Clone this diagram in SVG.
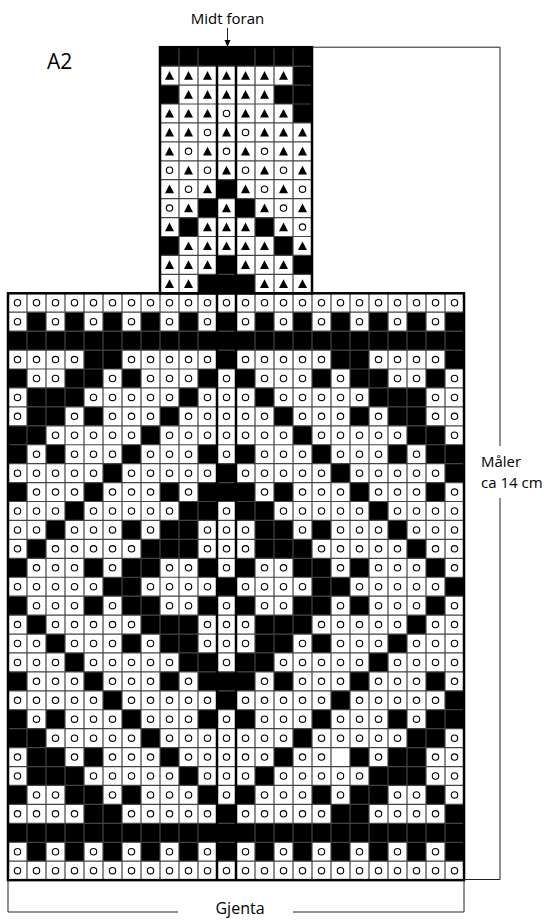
<svg xmlns="http://www.w3.org/2000/svg" xmlns:xlink="http://www.w3.org/1999/xlink" width="550" height="921" viewBox="0 0 550 921">
<style>
.l{font-family:"Open Sans","Liberation Sans",sans-serif;font-size:15px;fill:#000}
.a{font-family:"Open Sans","Liberation Sans",sans-serif;font-size:21px;fill:#000}
.g{fill:none;stroke:#444;stroke-width:1.2}
.thick{fill:none;stroke:#000;stroke-width:2.5}
.br{fill:none;stroke:#222;stroke-width:1}
</style>
<defs>
<rect id="b" width="19" height="18.93" fill="#000"/>
<circle id="o" cx="9.5" cy="9.47" r="3.2" fill="none" stroke="#000" stroke-width="1.1"/>
<path id="t" d="M9.5 4.9L14 13.6H5Z" fill="#000"/>
<g id="R1"><use href="#o" x="8"/><use href="#o" x="27"/><use href="#o" x="46"/><use href="#o" x="65"/><use href="#o" x="84"/><use href="#o" x="103"/><use href="#o" x="122"/><use href="#o" x="141"/><use href="#o" x="160"/><use href="#o" x="179"/><use href="#o" x="198"/><use href="#o" x="217"/><use href="#o" x="236"/><use href="#o" x="255"/><use href="#o" x="274"/><use href="#o" x="293"/><use href="#o" x="312"/><use href="#o" x="331"/><use href="#o" x="350"/><use href="#o" x="369"/><use href="#o" x="388"/><use href="#o" x="407"/><use href="#o" x="426"/><use href="#o" x="445"/></g>
<g id="R2"><use href="#o" x="8"/><use href="#b" x="27"/><use href="#o" x="46"/><use href="#b" x="65"/><use href="#o" x="84"/><use href="#b" x="103"/><use href="#o" x="122"/><use href="#b" x="141"/><use href="#o" x="160"/><use href="#b" x="179"/><use href="#o" x="198"/><use href="#b" x="217"/><use href="#o" x="236"/><use href="#b" x="255"/><use href="#o" x="274"/><use href="#b" x="293"/><use href="#o" x="312"/><use href="#b" x="331"/><use href="#o" x="350"/><use href="#b" x="369"/><use href="#o" x="388"/><use href="#b" x="407"/><use href="#o" x="426"/><use href="#b" x="445"/></g>
<g id="R3"><rect x="8" width="456" height="18.93" fill="#000"/></g>
<g id="R4"><use href="#b" x="84"/><use href="#b" x="103"/><use href="#b" x="217"/><use href="#b" x="331"/><use href="#b" x="350"/><use href="#b" x="445"/><use href="#o" x="8"/><use href="#o" x="27"/><use href="#o" x="46"/><use href="#o" x="65"/><use href="#o" x="122"/><use href="#o" x="141"/><use href="#o" x="160"/><use href="#o" x="179"/><use href="#o" x="198"/><use href="#o" x="236"/><use href="#o" x="255"/><use href="#o" x="274"/><use href="#o" x="293"/><use href="#o" x="312"/><use href="#o" x="369"/><use href="#o" x="388"/><use href="#o" x="407"/><use href="#o" x="426"/></g>
<g id="R5"><use href="#b" x="8"/><use href="#b" x="65"/><use href="#b" x="84"/><use href="#b" x="122"/><use href="#b" x="198"/><use href="#b" x="236"/><use href="#b" x="312"/><use href="#b" x="350"/><use href="#b" x="369"/><use href="#b" x="426"/><use href="#o" x="27"/><use href="#o" x="46"/><use href="#o" x="103"/><use href="#o" x="141"/><use href="#o" x="160"/><use href="#o" x="179"/><use href="#o" x="217"/><use href="#o" x="255"/><use href="#o" x="274"/><use href="#o" x="293"/><use href="#o" x="331"/><use href="#o" x="388"/><use href="#o" x="407"/><use href="#o" x="445"/></g>
<g id="R6"><use href="#b" x="27"/><use href="#b" x="46"/><use href="#b" x="65"/><use href="#b" x="179"/><use href="#b" x="255"/><use href="#b" x="369"/><use href="#b" x="388"/><use href="#b" x="407"/><use href="#o" x="8"/><use href="#o" x="84"/><use href="#o" x="103"/><use href="#o" x="122"/><use href="#o" x="141"/><use href="#o" x="160"/><use href="#o" x="198"/><use href="#o" x="217"/><use href="#o" x="236"/><use href="#o" x="274"/><use href="#o" x="293"/><use href="#o" x="312"/><use href="#o" x="331"/><use href="#o" x="350"/><use href="#o" x="426"/><use href="#o" x="445"/></g>
<g id="R7b"><use href="#b" x="27"/><use href="#b" x="46"/><use href="#b" x="84"/><use href="#b" x="160"/><use href="#b" x="274"/><use href="#b" x="350"/><use href="#b" x="388"/><use href="#b" x="407"/><use href="#o" x="8"/><use href="#o" x="65"/><use href="#o" x="103"/><use href="#o" x="122"/><use href="#o" x="141"/><use href="#o" x="179"/><use href="#o" x="198"/><use href="#o" x="217"/><use href="#o" x="236"/><use href="#o" x="255"/><use href="#o" x="293"/><use href="#o" x="312"/><use href="#o" x="369"/><use href="#o" x="426"/><use href="#o" x="445"/></g>
<g id="R7"><use href="#R7b"/><use href="#o" x="331"/></g>
<g id="R8"><use href="#b" x="8"/><use href="#b" x="27"/><use href="#b" x="141"/><use href="#b" x="293"/><use href="#b" x="407"/><use href="#b" x="426"/><use href="#o" x="46"/><use href="#o" x="65"/><use href="#o" x="84"/><use href="#o" x="103"/><use href="#o" x="122"/><use href="#o" x="160"/><use href="#o" x="179"/><use href="#o" x="198"/><use href="#o" x="217"/><use href="#o" x="236"/><use href="#o" x="255"/><use href="#o" x="274"/><use href="#o" x="312"/><use href="#o" x="331"/><use href="#o" x="350"/><use href="#o" x="369"/><use href="#o" x="388"/><use href="#o" x="445"/></g>
<g id="R9"><use href="#b" x="8"/><use href="#b" x="46"/><use href="#b" x="122"/><use href="#b" x="198"/><use href="#b" x="236"/><use href="#b" x="312"/><use href="#b" x="388"/><use href="#b" x="426"/><use href="#b" x="445"/><use href="#o" x="27"/><use href="#o" x="65"/><use href="#o" x="84"/><use href="#o" x="103"/><use href="#o" x="141"/><use href="#o" x="160"/><use href="#o" x="179"/><use href="#o" x="217"/><use href="#o" x="255"/><use href="#o" x="274"/><use href="#o" x="293"/><use href="#o" x="331"/><use href="#o" x="350"/><use href="#o" x="369"/><use href="#o" x="407"/></g>
<g id="R10"><use href="#b" x="103"/><use href="#b" x="217"/><use href="#b" x="331"/><use href="#b" x="445"/><use href="#o" x="8"/><use href="#o" x="27"/><use href="#o" x="46"/><use href="#o" x="65"/><use href="#o" x="84"/><use href="#o" x="122"/><use href="#o" x="141"/><use href="#o" x="160"/><use href="#o" x="179"/><use href="#o" x="198"/><use href="#o" x="236"/><use href="#o" x="255"/><use href="#o" x="274"/><use href="#o" x="293"/><use href="#o" x="312"/><use href="#o" x="350"/><use href="#o" x="369"/><use href="#o" x="388"/><use href="#o" x="407"/><use href="#o" x="426"/></g>
<g id="R11"><use href="#b" x="8"/><use href="#b" x="84"/><use href="#b" x="160"/><use href="#b" x="198"/><use href="#b" x="217"/><use href="#b" x="236"/><use href="#b" x="274"/><use href="#b" x="350"/><use href="#b" x="426"/><use href="#o" x="27"/><use href="#o" x="46"/><use href="#o" x="65"/><use href="#o" x="103"/><use href="#o" x="122"/><use href="#o" x="141"/><use href="#o" x="179"/><use href="#o" x="255"/><use href="#o" x="293"/><use href="#o" x="312"/><use href="#o" x="331"/><use href="#o" x="369"/><use href="#o" x="388"/><use href="#o" x="407"/><use href="#o" x="445"/></g>
<g id="R12"><use href="#b" x="65"/><use href="#b" x="179"/><use href="#b" x="198"/><use href="#b" x="236"/><use href="#b" x="255"/><use href="#b" x="369"/><use href="#o" x="8"/><use href="#o" x="27"/><use href="#o" x="46"/><use href="#o" x="84"/><use href="#o" x="103"/><use href="#o" x="122"/><use href="#o" x="141"/><use href="#o" x="160"/><use href="#o" x="217"/><use href="#o" x="274"/><use href="#o" x="293"/><use href="#o" x="312"/><use href="#o" x="331"/><use href="#o" x="350"/><use href="#o" x="388"/><use href="#o" x="407"/><use href="#o" x="426"/><use href="#o" x="445"/></g>
<g id="R13"><use href="#b" x="46"/><use href="#b" x="122"/><use href="#b" x="160"/><use href="#b" x="179"/><use href="#b" x="255"/><use href="#b" x="274"/><use href="#b" x="312"/><use href="#b" x="388"/><use href="#o" x="8"/><use href="#o" x="27"/><use href="#o" x="65"/><use href="#o" x="84"/><use href="#o" x="103"/><use href="#o" x="141"/><use href="#o" x="198"/><use href="#o" x="217"/><use href="#o" x="236"/><use href="#o" x="293"/><use href="#o" x="331"/><use href="#o" x="350"/><use href="#o" x="369"/><use href="#o" x="407"/><use href="#o" x="426"/><use href="#o" x="445"/></g>
<g id="R14"><use href="#b" x="27"/><use href="#b" x="141"/><use href="#b" x="160"/><use href="#b" x="179"/><use href="#b" x="255"/><use href="#b" x="274"/><use href="#b" x="293"/><use href="#b" x="407"/><use href="#o" x="8"/><use href="#o" x="46"/><use href="#o" x="65"/><use href="#o" x="84"/><use href="#o" x="103"/><use href="#o" x="122"/><use href="#o" x="198"/><use href="#o" x="217"/><use href="#o" x="236"/><use href="#o" x="312"/><use href="#o" x="331"/><use href="#o" x="350"/><use href="#o" x="369"/><use href="#o" x="388"/><use href="#o" x="426"/><use href="#o" x="445"/></g>
<g id="R15"><use href="#b" x="8"/><use href="#b" x="84"/><use href="#b" x="122"/><use href="#b" x="141"/><use href="#b" x="198"/><use href="#b" x="236"/><use href="#b" x="293"/><use href="#b" x="312"/><use href="#b" x="350"/><use href="#b" x="426"/><use href="#o" x="27"/><use href="#o" x="46"/><use href="#o" x="65"/><use href="#o" x="103"/><use href="#o" x="160"/><use href="#o" x="179"/><use href="#o" x="217"/><use href="#o" x="255"/><use href="#o" x="274"/><use href="#o" x="331"/><use href="#o" x="369"/><use href="#o" x="388"/><use href="#o" x="407"/><use href="#o" x="445"/></g>
<g id="R16"><use href="#b" x="103"/><use href="#b" x="122"/><use href="#b" x="217"/><use href="#b" x="312"/><use href="#b" x="331"/><use href="#b" x="445"/><use href="#o" x="8"/><use href="#o" x="27"/><use href="#o" x="46"/><use href="#o" x="65"/><use href="#o" x="84"/><use href="#o" x="141"/><use href="#o" x="160"/><use href="#o" x="179"/><use href="#o" x="198"/><use href="#o" x="236"/><use href="#o" x="255"/><use href="#o" x="274"/><use href="#o" x="293"/><use href="#o" x="350"/><use href="#o" x="369"/><use href="#o" x="388"/><use href="#o" x="407"/><use href="#o" x="426"/></g>
</defs>
<rect width="550" height="921" fill="#fff"/>
<g id="top-chart">
<g transform="translate(0,47.2)"><rect x="160" width="152" height="18.93" fill="#000"/></g>
<g transform="translate(0,66.13)"><use href="#t" x="160"/><use href="#t" x="179"/><use href="#t" x="198"/><use href="#t" x="217"/><use href="#t" x="236"/><use href="#t" x="255"/><use href="#t" x="274"/><use href="#b" x="293"/></g>
<g transform="translate(0,85.06)"><use href="#b" x="160"/><use href="#t" x="179"/><use href="#t" x="198"/><use href="#t" x="217"/><use href="#t" x="236"/><use href="#t" x="255"/><use href="#b" x="274"/><use href="#b" x="293"/></g>
<g transform="translate(0,103.99)"><use href="#t" x="160"/><use href="#t" x="179"/><use href="#t" x="198"/><use href="#o" x="217"/><use href="#t" x="236"/><use href="#t" x="255"/><use href="#t" x="274"/><use href="#b" x="293"/></g>
<g transform="translate(0,122.92)"><use href="#t" x="160"/><use href="#t" x="179"/><use href="#o" x="198"/><use href="#t" x="217"/><use href="#o" x="236"/><use href="#t" x="255"/><use href="#t" x="274"/><use href="#t" x="293"/></g>
<g transform="translate(0,141.85)"><use href="#t" x="160"/><use href="#o" x="179"/><use href="#t" x="198"/><use href="#o" x="217"/><use href="#t" x="236"/><use href="#o" x="255"/><use href="#t" x="274"/><use href="#t" x="293"/></g>
<g transform="translate(0,160.78)"><use href="#o" x="160"/><use href="#t" x="179"/><use href="#o" x="198"/><use href="#t" x="217"/><use href="#o" x="236"/><use href="#t" x="255"/><use href="#o" x="274"/><use href="#t" x="293"/></g>
<g transform="translate(0,179.71)"><use href="#t" x="160"/><use href="#o" x="179"/><use href="#t" x="198"/><use href="#b" x="217"/><use href="#t" x="236"/><use href="#o" x="255"/><use href="#t" x="274"/><use href="#o" x="293"/></g>
<g transform="translate(0,198.64)"><use href="#o" x="160"/><use href="#t" x="179"/><use href="#b" x="198"/><use href="#t" x="217"/><use href="#b" x="236"/><use href="#t" x="255"/><use href="#o" x="274"/><use href="#t" x="293"/></g>
<g transform="translate(0,217.57)"><use href="#t" x="160"/><use href="#b" x="179"/><use href="#t" x="198"/><use href="#t" x="217"/><use href="#t" x="236"/><use href="#b" x="255"/><use href="#t" x="274"/><use href="#o" x="293"/></g>
<g transform="translate(0,236.5)"><use href="#b" x="160"/><use href="#t" x="179"/><use href="#t" x="198"/><use href="#t" x="217"/><use href="#t" x="236"/><use href="#t" x="255"/><use href="#b" x="274"/><use href="#t" x="293"/></g>
<g transform="translate(0,255.43)"><use href="#t" x="160"/><use href="#t" x="179"/><use href="#t" x="198"/><use href="#b" x="217"/><use href="#t" x="236"/><use href="#t" x="255"/><use href="#t" x="274"/><use href="#b" x="293"/></g>
<g transform="translate(0,274.36)"><use href="#t" x="160"/><use href="#t" x="179"/><use href="#b" x="198"/><use href="#b" x="217"/><use href="#b" x="236"/><use href="#t" x="255"/><use href="#t" x="274"/><use href="#t" x="293"/></g>
</g>
<g id="main-chart">
<use href="#R1" y="293.29"/>
<use href="#R2" y="312.22"/>
<use href="#R3" y="331.15"/>
<use href="#R4" y="350.08"/>
<use href="#R5" y="369.01"/>
<use href="#R6" y="387.94"/>
<use href="#R7" y="406.87"/>
<use href="#R8" y="425.8"/>
<use href="#R9" y="444.73"/>
<use href="#R10" y="463.66"/>
<use href="#R11" y="482.59"/>
<use href="#R12" y="501.52"/>
<use href="#R13" y="520.45"/>
<use href="#R14" y="539.38"/>
<use href="#R15" y="558.31"/>
<use href="#R16" y="577.24"/>
<use href="#R15" y="596.17"/>
<use href="#R14" y="615.1"/>
<use href="#R13" y="634.03"/>
<use href="#R12" y="652.96"/>
<use href="#R11" y="671.89"/>
<use href="#R10" y="690.82"/>
<use href="#R9" y="709.75"/>
<use href="#R8" y="728.68"/>
<use href="#R7b" y="747.61"/>
<use href="#R6" y="766.54"/>
<use href="#R5" y="785.47"/>
<use href="#R4" y="804.4"/>
<use href="#R3" y="823.33"/>
<use href="#R2" y="842.26"/>
<use href="#R1" y="861.19"/>
</g>
<g id="grid">
<path class="g" d="M179 47.2v246.09M198 47.2v246.09M217 47.2v246.09M236 47.2v246.09M255 47.2v246.09M274 47.2v246.09M293 47.2v246.09M160 66.13h152M160 85.06h152M160 103.99h152M160 122.92h152M160 141.85h152M160 160.78h152M160 179.71h152M160 198.64h152M160 217.57h152M160 236.5h152M160 255.43h152M160 274.36h152"/>
<path class="g" d="M27 293.29v586.83M46 293.29v586.83M65 293.29v586.83M84 293.29v586.83M103 293.29v586.83M122 293.29v586.83M141 293.29v586.83M160 293.29v586.83M179 293.29v586.83M198 293.29v586.83M255 293.29v586.83M274 293.29v586.83M293 293.29v586.83M312 293.29v586.83M331 293.29v586.83M350 293.29v586.83M369 293.29v586.83M388 293.29v586.83M407 293.29v586.83M426 293.29v586.83M445 293.29v586.83M8 312.22h456M8 331.15h456M8 350.08h456M8 369.01h456M8 387.94h456M8 406.87h456M8 425.8h456M8 444.73h456M8 463.66h456M8 482.59h456M8 501.52h456M8 520.45h456M8 539.38h456M8 558.31h456M8 577.24h456M8 596.17h456M8 615.1h456M8 634.03h456M8 652.96h456M8 671.89h456M8 690.82h456M8 709.75h456M8 728.68h456M8 747.61h456M8 766.54h456M8 785.47h456M8 804.4h456M8 823.33h456M8 842.26h456M8 861.19h456"/>
<rect class="thick" x="160" y="47.2" width="152" height="246.09"/>
<rect class="thick" x="8" y="293.29" width="456" height="586.83"/>
<path class="thick" d="M217 47.2V880.12M236 47.2V880.12"/>
</g>
<g id="connectors">
<path class="br" d="M227.5 28V41"/>
<path d="M224.5 40H230.5L227.5 47Z" fill="#000"/>
<path class="br" d="M312 47.2H500V446M500 498V879.5H464"/>
<path class="br" d="M8 880V912H178M293 912H464V880"/>
</g>
<g id="labels">
<text class="l" x="227.5" y="24" text-anchor="middle">Midt foran</text>
<text class="a" x="47" y="69">A2</text>
<text class="l" x="481" y="467">Måler</text>
<text class="l" x="481" y="488">ca 14 cm</text>
<text class="l" x="240" y="914" text-anchor="middle" style="font-size:16px">Gjenta</text>
</g>
</svg>
